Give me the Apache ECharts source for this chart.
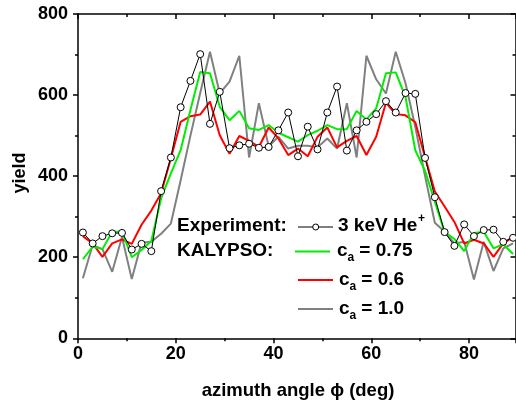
<!DOCTYPE html>
<html>
<head>
<meta charset="utf-8">
<title>Azimuthal yield scan</title>
<script src="https://cdn.jsdelivr.net/npm/echarts@6/dist/echarts.min.js"></script>
<style>
  html, body { margin: 0; padding: 0; background: #fff; }
  #chart { width: 516px; height: 407px; }
</style>
</head>
<body>
<div id="chart"></div>
<script>
// Azimuth angles (deg) of the measured / simulated points
const angles = [1, 3, 5, 7, 9, 11, 13, 15, 17, 19, 21, 23, 25, 27, 29,
                31, 33, 35, 37, 39, 41, 43, 45, 47, 49, 51, 53, 55, 57, 59,
                61, 63, 65, 67, 69, 71, 73, 75, 77, 79, 81, 83, 85, 87, 89];

// Experiment: 3 keV He+
const experiment = [261, 234, 252, 259, 260, 219, 233, 215, 363, 446, 570, 635, 701, 529, 608,
                    469, 476, 480, 470, 472, 513, 557, 449, 522, 466, 557, 621, 463, 513, 534,
                    553, 585, 557, 605, 603, 445, 348, 262, 228, 281, 252, 267, 268, 238, 248];

// KALYPSO simulations
const kalypso075 = [195, 226, 220, 263, 263, 200, 218, 240, 345, 407, 464, 563, 657, 654, 571,
                    538, 561, 518, 514, 526, 507, 496, 485, 501, 512, 526, 516, 516, 561, 540,
                    567, 654, 656, 595, 464, 413, 337, 262, 245, 215, 260, 263, 222, 232, 208];

const kalypso06 = [252, 234, 201, 234, 244, 233, 280, 315, 358, 444, 534, 548, 552, 584, 501,
                   455, 499, 487, 472, 520, 493, 452, 468, 449, 497, 520, 471, 487, 499, 452,
                   497, 581, 553, 550, 533, 447, 362, 325, 287, 234, 243, 234, 201, 234, 250];

const kalypso10 = [148, 230, 220, 164, 250, 146, 236, 238, 258, 283, 390, 500, 605, 707, 604,
                   633, 697, 446, 580, 474, 497, 468, 475, 475, 471, 493, 468, 580, 446, 697,
                   639, 604, 707, 629, 522, 400, 285, 263, 234, 238, 145, 238, 166, 222, 234];

// Tick labels
const xTickLabels = [0, 20, 40, 60, 80];
const yTickLabels = [0, 200, 400, 600, 800];

const FONT = '"Liberation Sans", Arial, Helvetica, sans-serif';
const pairs = vals => angles.map((a, i) => [a, vals[i]]);

const lineBlack = { color: '#000', width: 1.5 };

function makeX(position, inside, labels) {
  return {
    type: 'value', position: position, min: 0, max: 89.5, interval: 20,
    axisLine: { show: true, onZero: false, lineStyle: lineBlack },
    axisTick: { show: true, inside: inside, length: 5, lineStyle: lineBlack },
    minorTick: { show: true, splitNumber: 2, length: 3, lineStyle: lineBlack },
    axisLabel: {
      show: labels, margin: 7, color: '#000', fontSize: 18, fontWeight: 'bold', fontFamily: FONT,
      showMaxLabel: false,
      formatter: v => (xTickLabels.indexOf(v) >= 0 ? String(v) : '')
    },
    splitLine: { show: false }
  };
}

function makeY(position, inside, labels) {
  return {
    type: 'value', position: position, min: 0, max: 800, interval: 200,
    axisLine: { show: true, onZero: false, lineStyle: lineBlack },
    axisTick: { show: true, inside: inside, length: 5, lineStyle: lineBlack },
    minorTick: { show: true, splitNumber: 2, length: 3, lineStyle: lineBlack },
    axisLabel: {
      show: labels, margin: 10, color: '#000', fontSize: 18, fontWeight: 'bold', fontFamily: FONT,
      formatter: v => (yTickLabels.indexOf(v) >= 0 ? String(v) : '')
    },
    splitLine: { show: false }
  };
}

const chart = echarts.init(document.getElementById('chart'), null, { renderer: 'canvas' });

const bold18 = 'bold 18px ' + FONT;
const bold19 = 'bold 19px ' + FONT;
const bold12 = 'bold 12px ' + FONT;
const txt = (x, y, text, font) => ({
  type: 'text', x: x, y: y, z: 100,
  style: { text: text, font: font || bold19, fill: '#000', textAlign: 'left', textVerticalAlign: 'middle' }
});
const seg = (x1, x2, y, color, w) => ({
  type: 'line', z: 100, shape: { x1: x1, y1: y, x2: x2, y2: y },
  style: { stroke: color, lineWidth: w }
});

chart.setOption({
  animation: false,
  backgroundColor: '#fff',
  grid: { left: 78, right: 0.5, top: 14, bottom: 68.7, containLabel: false },
  xAxis: [makeX('bottom', false, true), makeX('top', true, false)],
  yAxis: [makeY('left', false, true), makeY('right', true, false)],
  series: [
    { name: 'c_a = 1.0', type: 'line', data: pairs(kalypso10), symbol: 'none',
      lineStyle: { color: '#808080', width: 2 }, z: 2 },
    { name: 'c_a = 0.6', type: 'line', data: pairs(kalypso06), symbol: 'none',
      lineStyle: { color: '#ff0000', width: 2 }, z: 3 },
    { name: 'c_a = 0.75', type: 'line', data: pairs(kalypso075), symbol: 'none',
      lineStyle: { color: '#00ee00', width: 2 }, z: 4 },
    { name: '3 keV He+', type: 'line', data: pairs(experiment), symbol: 'circle', symbolSize: 7,
      itemStyle: { color: '#fff', borderColor: '#000', borderWidth: 1 },
      lineStyle: { color: '#000', width: 1 }, z: 5 }
  ],
  graphic: [
    // axis titles
    { type: 'text', x: 20, y: 173, rotation: Math.PI / 2, z: 100,
      style: { text: 'yield', font: bold18, fill: '#000', textAlign: 'center', textVerticalAlign: 'middle' } },
    { type: 'text', x: 298, y: 391, z: 100,
      style: { text: 'azimuth angle \u03D5 (deg)', font: 'bold 18.5px ' + FONT, fill: '#000', textAlign: 'center', textVerticalAlign: 'middle' } },

    // key
    txt(177, 226, 'Experiment:'),
    txt(177, 251, 'KALYPSO:'),

    seg(298, 333, 227, '#000', 1),
    { type: 'circle', z: 101, shape: { cx: 315.7, cy: 227, r: 3 },
      style: { fill: '#fff', stroke: '#000', lineWidth: 1 } },
    txt(338, 226, '3 keV He'),
    txt(418, 219, '+', bold12),

    seg(295, 330, 251.5, '#00ee00', 2),
    txt(337, 251, 'c'),
    txt(347.5, 258, 'a', bold12),
    txt(354, 251, ' = 0.75'),

    seg(298, 333, 280, '#ff0000', 2),
    txt(339, 280, 'c'),
    txt(349.5, 287, 'a', bold12),
    txt(356, 280, ' = 0.6'),

    seg(298, 333, 309, '#808080', 2),
    txt(339, 309, 'c'),
    txt(349.5, 316, 'a', bold12),
    txt(356, 309, ' = 1.0')
  ]
});
</script>
</body>
</html>
